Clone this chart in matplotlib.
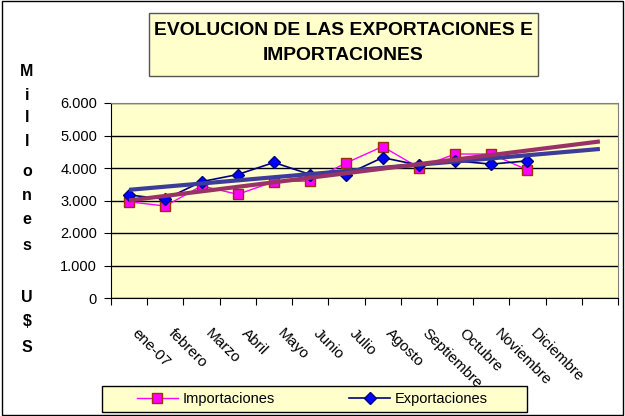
import numpy as np
import matplotlib
matplotlib.use('Agg')
from matplotlib import pyplot as plt
from matplotlib.patches import Rectangle

plt.rcParams['font.family'] = ['Liberation Sans', 'DejaVu Sans']

meses = ['ene-07', 'febrero', 'Marzo', 'Abril', 'Mayo', 'Junio', 'Julio',
         'Agosto', 'Septiembre', 'Octubre', 'Noviembre', 'Diciembre']
importaciones = [2960, 2830, 3450, 3190, 3580, 3600, 4160, 4660, 4010, 4430, 4430, 3940]
exportaciones = [3170, 3040, 3580, 3800, 4170, 3800, 3800, 4320, 4090, 4220, 4120, 4220]
n_periodos = 14  # 12 meses + 2 periodos de pronostico de la tendencia

fig = plt.figure(figsize=(6.25, 4.16), dpi=100)
ax = fig.add_axes([111 / 625, 118 / 416, 507 / 625, 195 / 416])
ax.set_facecolor('#FFFFCC')

x = np.arange(1, len(meses) + 1)
ax.plot(x, importaciones, color='#FF00FF', lw=1, marker='s', ms=6.5,
        mfc='#FF00FF', mec='#993300', mew=1, label='Importaciones', zorder=3)
ax.plot(x, exportaciones, color='#000080', lw=1.2, marker='D', ms=6,
        mfc='#0000FF', mec='#000080', mew=1, label='Exportaciones', zorder=3)

# lineas de tendencia lineal, extendidas dos periodos
xt = np.array([1, n_periodos])
for serie, color in [(exportaciones, '#3C3C9A'), (importaciones, '#993366')]:
    m, b = np.polyfit(x, serie, 1)
    ax.plot(xt, m * xt + b, color=color, lw=3, zorder=4, solid_capstyle='butt')

ax.set_xlim(0.5, n_periodos + 0.5)
ax.set_ylim(0, 6000)
ax.set_yticks(np.arange(0, 6001, 1000))
ax.set_yticklabels(['{:,}'.format(v).replace(',', '.') for v in range(0, 6001, 1000)],
                   fontsize=10.5)
ax.yaxis.grid(True, color='black', lw=1)
ax.set_axisbelow(True)
ax.set_xticks(np.arange(0.5, n_periodos + 1, 1))
ax.set_xticklabels([])
ax.tick_params(axis='both', direction='out', length=5, color='black')
ax.tick_params(axis='y', pad=5)
for s in ['top', 'right']:
    ax.spines[s].set_color('#808080')
for s in ['left', 'bottom']:
    ax.spines[s].set_color('black')

for i, mes in enumerate(meses):
    ax.annotate(mes, xy=(i + 1, 0), xycoords=('data', 'axes fraction'),
                xytext=(4, -24), textcoords='offset points', rotation=-45,
                rotation_mode='anchor', ha='left', va='center', fontsize=11)

# titulo en recuadro
fig.patches.append(Rectangle((149 / 625, 1 - 76 / 416), 389 / 625, 63 / 416,
                             transform=fig.transFigure, facecolor='#FFFFCC',
                             edgecolor='#555555', lw=1))
fig.text(343.5 / 625, 1 - 30.5 / 416, 'EVOLUCION DE LAS EXPORTACIONES E',
         ha='center', va='center', fontsize=13.9, fontweight='bold')
fig.text(343.5 / 625, 1 - 55.5 / 416, 'IMPORTACIONES',
         ha='center', va='center', fontsize=13.9, fontweight='bold')

# etiqueta vertical del eje y
ys = [72, 95, 118, 141, 172, 195, 219, 245, 297, 322, 347]
letras = list('Millones') + list('U$S')
for c, yy in zip(letras, ys):
    fig.text(27 / 625, 1 - yy / 416, c, ha='center', va='center',
             fontsize=11.5, fontweight='bold')

# recuadro de la leyenda
fig.patches.append(Rectangle((102 / 625, 4 / 416), 425 / 625, 26 / 416,
                             transform=fig.transFigure, facecolor='#FFFFCC',
                             edgecolor='black', lw=1))
fig.legend(loc='center left', bbox_to_anchor=(137 / 625, 17 / 416),
           ncol=2, handlelength=2.8, handletextpad=0.34, columnspacing=5.1,
           frameon=False, fontsize=10.5, borderaxespad=0, borderpad=0)

fig.patches.append(Rectangle((0.003, 0.003), 0.994, 0.994, transform=fig.transFigure,
                             facecolor='none', edgecolor='black', lw=1))

fig.savefig('out.png', dpi=100)
